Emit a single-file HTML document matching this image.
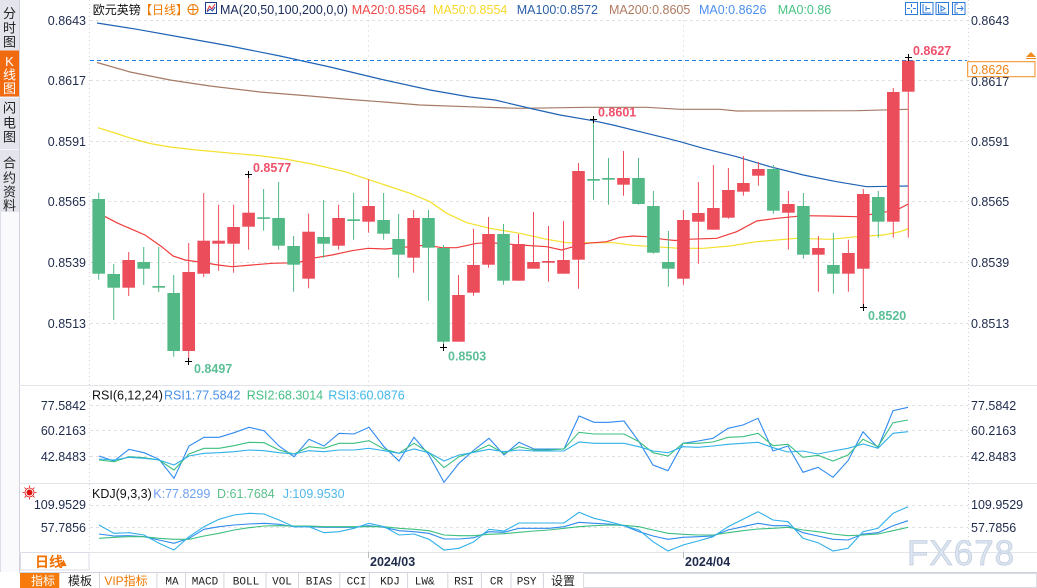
<!DOCTYPE html>
<html><head><meta charset="utf-8"><style>
html,body{margin:0;padding:0;background:#fff;}
body{width:1037px;height:588px;overflow:hidden;position:relative;}
svg{position:absolute;left:0;top:0;}
text{font-family:"Liberation Sans","Noto Sans CJK SC",sans-serif;}
.ax{font-size:12.5px;fill:#1f2b4c;}
.tb{font-family:"Liberation Mono","Noto Sans CJK SC",monospace;font-size:11px;fill:#222;}
.cj{font-family:"Liberation Sans","Noto Sans CJK SC",sans-serif;font-size:12px;}
</style></head><body>
<svg width="1037" height="588" viewBox="0 0 1037 588" xmlns="http://www.w3.org/2000/svg">
<rect x="0" y="0" width="1037" height="588" fill="#fff"/>
<!-- left sidebar -->
<rect x="0" y="0" width="19" height="572" fill="#fafafc"/>
<rect x="0" y="0" width="19" height="212" fill="#e3e4ec"/>
<rect x="0" y="50.5" width="19" height="46" fill="#f26a10"/>
<line x1="0" y1="97.5" x2="19" y2="97.5" stroke="#f6f6fa"/>
<line x1="0" y1="149.5" x2="19" y2="149.5" stroke="#f6f6fa"/>
<line x1="0.5" y1="212" x2="0.5" y2="572" stroke="#dcdde6"/>
<line x1="19.5" y1="0" x2="19.5" y2="572" stroke="#cfd1dc"/>
<g font-size="13" text-anchor="middle" fill="#222">
<text x="9.5" y="18">分</text><text x="9.5" y="32.5">时</text><text x="9.5" y="46.5">图</text>
<text x="9.5" y="66" fill="#fff" font-family="Liberation Serif,serif">K</text><text x="9.5" y="79.5" fill="#fff">线</text><text x="9.5" y="93" fill="#fff">图</text>
<text x="9.5" y="112.5">闪</text><text x="9.5" y="127.5">电</text><text x="9.5" y="141.5">图</text>
<text x="9.5" y="167.5">合</text><text x="9.5" y="182.5">约</text><text x="9.5" y="196.5">资</text><text x="9.5" y="210">料</text>
</g>

<!-- panel separators -->
<g stroke="#e2e4ea" stroke-width="1">
<line x1="19" y1="385.5" x2="1037" y2="385.5"/>
<line x1="19" y1="483.5" x2="1037" y2="483.5"/>
<line x1="19" y1="552.5" x2="1037" y2="552.5"/>
</g>
<!-- axis vertical lines -->
<line x1="89.5" y1="0" x2="89.5" y2="552" stroke="#cdd1dc" stroke-dasharray="1,3"/>
<line x1="968.5" y1="0" x2="968.5" y2="552" stroke="#cdd1dc" stroke-dasharray="1,3"/>
<line x1="368.5" y1="0" x2="368.5" y2="552" stroke="#e6e6e6" stroke-dasharray="2,3"/>
<line x1="683.5" y1="0" x2="683.5" y2="552" stroke="#e6e6e6" stroke-dasharray="2,3"/>
<line x1="368.5" y1="552" x2="368.5" y2="558" stroke="#bbb"/>
<line x1="683.5" y1="552" x2="683.5" y2="558" stroke="#bbb"/>
<!-- grid -->
<g stroke="#e0e0e0" stroke-dasharray="3,3">
<line x1="90" y1="20.5" x2="968" y2="20.5"/>
<line x1="90" y1="80.5" x2="968" y2="80.5"/>
<line x1="90" y1="141.5" x2="968" y2="141.5"/>
<line x1="90" y1="201.5" x2="968" y2="201.5"/>
<line x1="90" y1="262.5" x2="968" y2="262.5"/>
<line x1="90" y1="323.5" x2="968" y2="323.5"/>
<line x1="90" y1="405.5" x2="968" y2="405.5"/>
<line x1="90" y1="430.5" x2="968" y2="430.5"/>
<line x1="90" y1="456.5" x2="968" y2="456.5"/>
<line x1="90" y1="505.5" x2="968" y2="505.5"/>
<line x1="90" y1="527.5" x2="968" y2="527.5"/>
</g>

<!-- header -->
<text class="cj" x="92.7" y="14" fill="#111">欧元英镑</text>
<text class="cj" x="140" y="14" fill="#f07800">【日线】</text>
<circle cx="193" cy="9.5" r="5" fill="none" stroke="#f07800"/>
<line x1="188" y1="9.5" x2="198" y2="9.5" stroke="#f07800"/><line x1="193" y1="4.5" x2="193" y2="14.5" stroke="#f07800"/>
<rect x="205.5" y="2.5" width="11" height="11" fill="#fff" stroke="#1a3a8a"/>
<polyline points="207,11 209.5,6 212,9 215,4" fill="none" stroke="#e03030"/>
<polyline points="207,12 210,9 212.5,11 215,7" fill="none" stroke="#2050c0"/>
<g font-size="12.5">
<text x="220" y="14" fill="#1a2a5a">MA(20,50,100,200,0,0)</text>
<text x="351.7" y="14" fill="#f04848">MA20:0.8564</text>
<text x="433" y="14" fill="#f5d829">MA50:0.8554</text>
<text x="516.7" y="14" fill="#2a5ea8">MA100:0.8572</text>
<text x="609" y="14" fill="#b07a60">MA200:0.8605</text>
<text x="699" y="14" fill="#4d8ff0">MA0:0.8626</text>
<text x="777.7" y="14" fill="#48c383">MA0:0.86</text>
</g>
<!-- top-right icons -->
<g fill="#fff" stroke="#2f7bd8">
<rect x="905.5" y="2.5" width="12" height="12"/>
<rect x="920.5" y="2.5" width="12.5" height="12"/>
<rect x="936" y="2.5" width="12.5" height="12"/>
<rect x="952.5" y="2.5" width="12.5" height="12"/>
</g>
<g stroke="#2f7bd8" fill="none">
<path d="M911.5 4v3M911.5 10v3M907 8.5h3M913 8.5h3"/>
<path d="M923 4v9h8M926 6v5M926 8.5h4"/>
<path d="M938.5 4v9h8M941 6l4 2.5-4 2.5z"/>
<path d="M955 4v9h3M955 4h3M957 8.5h6M961 6l2 2.5-2 2.5"/>
</g>

<!-- left axis labels -->
<g class="ax" text-anchor="end">
<text x="86" y="25">0.8643</text>
<text x="86" y="85">0.8617</text>
<text x="86" y="146">0.8591</text>
<text x="86" y="206">0.8565</text>
<text x="86" y="267">0.8539</text>
<text x="86" y="328">0.8513</text>
<text x="86" y="410">77.5842</text>
<text x="86" y="435">60.2163</text>
<text x="86" y="461">42.8483</text>
<text x="86" y="509">109.9529</text>
<text x="86" y="532">57.7856</text>
</g>
<!-- right axis labels -->
<g class="ax">
<text x="971" y="25">0.8643</text>
<text x="971" y="86">0.8617</text>
<text x="971" y="146">0.8591</text>
<text x="971" y="206">0.8565</text>
<text x="971" y="267">0.8539</text>
<text x="971" y="328">0.8513</text>
<text x="971" y="410">77.5842</text>
<text x="971" y="435">60.2163</text>
<text x="971" y="461">42.8483</text>
<text x="971" y="509">109.9529</text>
<text x="971" y="532">57.7856</text>
</g>
<!-- current price box -->
<rect x="967.7" y="61.7" width="67.3" height="15" fill="#fff" stroke="#f08c1e"/>
<text x="971" y="74" font-size="12.5" fill="#f08010">0.8626</text>
<path d="M1026 57l5-5 5 5z" fill="#f08c1e"/>
<line x1="1026" y1="58.5" x2="1036" y2="58.5" stroke="#f08c1e"/>

<!-- MA lines -->
<g fill="none" stroke-width="1.2">
<polyline stroke="#a57a66" points="97,62.5 130,72 170,80 210,86 260,92 310,96 350,99.5 380,101.7 420,105 467,106.7 520,108.3 587,107.3 647,107.3 680,109.3 720,109.3 737,111 857,110.7 908.3,109.3"/>
<polyline stroke="#1f62b4" points="97,23 137,29.3 180,37 230,46 280,56 330,67 380,79 430,90 470,97 495,100 533,109 560,115 593,120.7 613,125 640,131.7 667,138.3 680,141.7 703.3,148.3 736.7,156.7 770,166.7 803.3,175 836.7,181.7 866.7,186.7 908.3,186"/>
<polyline stroke="#f5e02a" points="98,127.7 115,133 130,138 150,143.5 170,147 196.7,150 238,153.8 258,155.5 285,159 312,164 345,171.7 385,185 410,193.3 430,201.7 446.7,213.3 466.7,222.7 490,228.3 520,233.3 546.7,239.3 566.7,242.7 613.3,242.7 633.3,245.3 653.3,246.7 680,248.3 703.3,248.3 730,246 756.7,241.7 796.7,238.3 830,239.3 856.7,236.7 883.3,235 900,231.7 908.3,228.7"/>
<polyline stroke="#f03c3c" points="98.7,213.3 118,223.3 145,235 161.7,246.7 173,256 185,260 203,262.5 218,265 232,266.7 252,265 272,263.3 298,262.7 312,258.3 332,255 352,250.7 368,248.3 385,249 400,247.7 426.7,245 441.7,247.7 456.7,247.7 476.7,243.3 490,242.7 520,245 546.7,246.7 561.7,250 573.3,246.7 586.7,243.3 606.7,241.7 620,237.3 633.3,236 646.7,236.7 663.3,239.3 675,240.5 686.7,239.3 716.7,238.3 736.7,231.7 756.7,221 776.7,218.3 803.3,215.7 826.7,216 856.7,216.7 873.3,214 886.7,211.7 900,208.3 908.3,204"/>
</g>
<!-- current price dashed line -->
<line x1="90" y1="60.5" x2="967" y2="60.5" stroke="#1a7ee8" stroke-dasharray="4,3"/>

<!-- candles green -->
<g fill="#51b886">
<rect x="98.2" y="192.7" width="1" height="87"/><rect x="92.4" y="199" width="12.6" height="74.7"/>
<rect x="113.2" y="264" width="1" height="56"/><rect x="107.4" y="274" width="12.6" height="13.7"/>
<rect x="143.2" y="247" width="1" height="38"/><rect x="137.4" y="262" width="12.6" height="6.7"/>
<rect x="158.2" y="247" width="1" height="45"/><rect x="152.4" y="286" width="12.6" height="1.7"/>
<rect x="173.2" y="275" width="1" height="81.7"/><rect x="167.4" y="293" width="12.6" height="58"/>
<rect x="263.1" y="189" width="1" height="41.7"/><rect x="257.3" y="217.3" width="12.6" height="1.6"/>
<rect x="278.1" y="182" width="1" height="67.7"/><rect x="272.3" y="218" width="12.6" height="27.7"/>
<rect x="293.1" y="236" width="1" height="55.7"/><rect x="287.3" y="246" width="12.6" height="18.7"/>
<rect x="323.1" y="200" width="1" height="57.7"/><rect x="317.3" y="237" width="12.6" height="6.7"/>
<rect x="353.1" y="192.7" width="1" height="47"/><rect x="347.3" y="219.3" width="12.6" height="1.7"/>
<rect x="383.1" y="193" width="1" height="46.7"/><rect x="377.3" y="220" width="12.6" height="13.7"/>
<rect x="398.1" y="214" width="1" height="63.7"/><rect x="392.3" y="239" width="12.6" height="15.7"/>
<rect x="428" y="210" width="1" height="90.7"/><rect x="422.2" y="218" width="12.6" height="29.7"/>
<rect x="443" y="245" width="1" height="102"/><rect x="437.2" y="248" width="12.6" height="93.7"/>
<rect x="503" y="224" width="1" height="60.7"/><rect x="497.2" y="234" width="12.6" height="46.7"/>
<rect x="593" y="119" width="1" height="80.7"/><rect x="587.2" y="179" width="12.6" height="1.7"/>
<rect x="608" y="158" width="1" height="46.7"/><rect x="602.2" y="178" width="12.6" height="1.7"/>
<rect x="638" y="158" width="1" height="46.7"/><rect x="632.2" y="178" width="12.6" height="26"/>
<rect x="652.9" y="191" width="1" height="62.7"/><rect x="647.1" y="206" width="12.6" height="46.7"/>
<rect x="667.9" y="231" width="1" height="55.7"/><rect x="662.1" y="262" width="12.6" height="6.7"/>
<rect x="772.9" y="165" width="1" height="48.7"/><rect x="767.1" y="169" width="12.6" height="41.7"/>
<rect x="802.9" y="193" width="1" height="65.7"/><rect x="797.1" y="206" width="12.6" height="48.7"/>
<rect x="832.9" y="233" width="1" height="60.7"/><rect x="827.1" y="265" width="12.6" height="8.7"/>
<rect x="877.8" y="191" width="1" height="46.7"/><rect x="872" y="197" width="12.6" height="24.7"/>
</g>
<!-- candles red -->
<g fill="#ec4d5b">
<rect x="128.2" y="252" width="1" height="44"/><rect x="122.4" y="260" width="12.6" height="27.7"/>
<rect x="188.2" y="243" width="1" height="118"/><rect x="182.4" y="272" width="12.6" height="79"/>
<rect x="203.2" y="193" width="1" height="84"/><rect x="197.4" y="240.7" width="12.6" height="33"/>
<rect x="218.1" y="204.7" width="1" height="66"/><rect x="212.3" y="240.7" width="12.6" height="3"/>
<rect x="233.1" y="204.7" width="1" height="68"/><rect x="227.3" y="227" width="12.6" height="16.7"/>
<rect x="248.1" y="174.5" width="1" height="75.2"/><rect x="242.3" y="212.7" width="12.6" height="14"/>
<rect x="308.1" y="213.7" width="1" height="74.6"/><rect x="302.3" y="231.7" width="12.6" height="47"/>
<rect x="338.1" y="204.7" width="1" height="45"/><rect x="332.3" y="218" width="12.6" height="27.7"/>
<rect x="368.1" y="179.3" width="1" height="53.4"/><rect x="362.3" y="206" width="12.6" height="15.7"/>
<rect x="413.1" y="210" width="1" height="62.7"/><rect x="407.3" y="218" width="12.6" height="39.7"/>
<rect x="458" y="275" width="1" height="66.7"/><rect x="452.2" y="295" width="12.6" height="46.7"/>
<rect x="473" y="229" width="1" height="66.7"/><rect x="467.2" y="265" width="12.6" height="27.7"/>
<rect x="488" y="217" width="1" height="50.7"/><rect x="482.2" y="234" width="12.6" height="30.7"/>
<rect x="518" y="234" width="1" height="46.7"/><rect x="512.2" y="244" width="12.6" height="36.7"/>
<rect x="533" y="212" width="1" height="56.7"/><rect x="527.2" y="262" width="12.6" height="6.7"/>
<rect x="548" y="226" width="1" height="55.7"/><rect x="542.2" y="261" width="12.6" height="1.7"/>
<rect x="563" y="221" width="1" height="52.7"/><rect x="557.2" y="260" width="12.6" height="13.7"/>
<rect x="578" y="163" width="1" height="125.7"/><rect x="572.2" y="171" width="12.6" height="88.7"/>
<rect x="623" y="151" width="1" height="44.7"/><rect x="617.2" y="178" width="12.6" height="6.7"/>
<rect x="682.9" y="210" width="1" height="74.7"/><rect x="677.1" y="220" width="12.6" height="58.7"/>
<rect x="697.9" y="182" width="1" height="81.7"/><rect x="692.1" y="213" width="12.6" height="8.7"/>
<rect x="712.9" y="165" width="1" height="64.7"/><rect x="707.1" y="208" width="12.6" height="21.7"/>
<rect x="727.9" y="168" width="1" height="50.7"/><rect x="722.1" y="190" width="12.6" height="27.7"/>
<rect x="742.9" y="156" width="1" height="39.7"/><rect x="737.1" y="183" width="12.6" height="8.7"/>
<rect x="757.9" y="162" width="1" height="23.7"/><rect x="752.1" y="169" width="12.6" height="6.7"/>
<rect x="787.9" y="191" width="1" height="58.7"/><rect x="782.1" y="204" width="12.6" height="8.7"/>
<rect x="817.9" y="236" width="1" height="55.7"/><rect x="812.1" y="248" width="12.6" height="6.7"/>
<rect x="847.9" y="239.7" width="1" height="52"/><rect x="842.1" y="253" width="12.6" height="20.7"/>
<rect x="862.8" y="189" width="1" height="118.5"/><rect x="857" y="194" width="12.6" height="74.7"/>
<rect x="892.8" y="88" width="1" height="149.7"/><rect x="887" y="92" width="12.6" height="129.7"/>
<rect x="907.8" y="57.7" width="1" height="180"/><rect x="902" y="60.7" width="12.6" height="31"/>
</g>
<!-- extreme markers -->
<g stroke="#000" stroke-width="1">
<path d="M245 174.5h7M248.5 171v7"/>
<path d="M185 361.5h7M188.5 358v7"/>
<path d="M440 347.5h7M443.5 344v7"/>
<path d="M590 119.5h7M593.5 116v7"/>
<path d="M860 307.5h7M863.5 304v7"/>
<path d="M905 57.5h7M908.5 54v7"/>
</g>
<g font-size="12.5" font-weight="bold">
<text x="253" y="172" fill="#f0506a">0.8577</text>
<text x="598" y="116.5" fill="#f0506a">0.8601</text>
<text x="913" y="55" fill="#f0506a">0.8627</text>
<text x="194" y="373" fill="#5bbf97">0.8497</text>
<text x="448" y="360.5" fill="#5bbf97">0.8503</text>
<text x="868" y="320" fill="#5bbf97">0.8520</text>
</g>

<!-- RSI -->
<text x="92" y="399.5" font-size="12.5" fill="#111">RSI(6,12,24)</text>
<text x="164" y="399.5" font-size="12.5" fill="#4a90e8">RSI1:77.5842</text>
<text x="246.7" y="399.5" font-size="12.5" fill="#45c085">RSI2:68.3014</text>
<text x="328.3" y="399.5" font-size="12.5" fill="#40b8e8">RSI3:60.0876</text>
<g fill="none" stroke-width="1.1">
<polyline stroke="#2f8af0" points="99,456 114,461 129,449.3 144,452.7 159,459.3 174,478.3 189,446 204,437.3 219,437.3 234,432.7 249,427.3 264,430.7 279,446 294,456.7 309,439.3 324,446 339,433.3 354,434 369,427.3 384,446.7 399,461 414,437.3 429,455 444,482.3 459,463.3 474,450 489,438.3 504,455 519,442.3 534,449 549,449 564,449 579,416 594,422.3 609,422.3 624,421 639,441.7 653,465 668,470.7 683,443.3 698,441 713,438.3 728,428.3 743,425 758,418.3 773,451 788,446 803,472.3 818,467.3 833,477.3 848,460.7 863,431.7 878,447.7 893,410.7 908,407.3"/>
<polyline stroke="#3cbf7f" points="99,460 114,461.7 129,456.7 144,457.7 159,460 174,470 189,454 204,448.3 219,448.3 234,445.7 249,442.3 264,442.7 279,450 294,454 309,446.7 324,448.3 339,443.3 354,443.3 369,440.7 384,449 399,453.3 414,443.3 429,452.7 444,467.7 459,456.7 474,451.7 489,445 504,453.3 519,446.7 534,450 549,450 564,449 579,432.3 594,434 609,434 624,434 639,441.7 653,452.7 668,456 683,443.3 698,443.3 713,442 728,437.3 743,436.7 758,433.3 773,445.7 788,444.3 803,457.3 818,455.3 833,461 848,455 863,439.3 878,446.7 893,422.7 908,420"/>
<polyline stroke="#30b0e8" points="99,459 114,460 129,457.3 144,458.3 159,460 174,465 189,456 204,453.3 219,452.7 234,451.7 249,450 264,450.7 279,452.7 294,454 309,450.7 324,451.7 339,450 354,450 369,448.3 384,450.7 399,453.3 414,449 429,452.7 444,461 459,455 474,452.3 489,449.3 504,451.7 519,450 534,451 549,451 564,451 579,442 594,443.3 609,443.3 624,443.3 639,446.7 653,451 668,452.7 683,446.7 698,447.3 713,446 728,444.3 743,443.3 758,442.3 773,447.7 788,452 803,451 818,454 833,451 848,448.3 863,444 878,448.3 893,433.3 908,431.7"/>
</g>

<!-- KDJ -->
<g>
<circle cx="29.5" cy="492.5" r="3" fill="#e01010"/>
<circle cx="29.5" cy="492.5" r="4.5" fill="none" stroke="#e01010" stroke-width="0.8"/>
<path d="M29.5 485.5v2M29.5 497.5v2M22.5 492.5h2M34.5 492.5h2M24.5 487.5l1.5 1.5M33 496l1.5 1.5M34.5 487.5l-1.5 1.5M26 496l-1.5 1.5" stroke="#e01010" stroke-width="0.8"/>
</g>
<text x="92" y="498" font-size="12.5" fill="#111">KDJ(9,3,3)</text>
<text x="153.3" y="498" font-size="12.5" fill="#6fa0f0">K:77.8299</text>
<text x="217" y="498" font-size="12.5" fill="#5cc08a">D:61.7684</text>
<text x="282.7" y="498" font-size="12.5" fill="#50b8ea">J:109.9530</text>
<g fill="none" stroke-width="1.1">
<polyline stroke="#2f8af0" points="99,534 114,536 129,535.7 144,536.7 159,540 174,543.3 189,538.3 204,529.3 219,526.7 234,525 249,524 264,523.3 279,524.3 294,526.7 309,526.7 324,527.3 339,527.3 354,527.3 369,525.7 384,527.3 399,530.7 414,531.7 429,533.3 444,539 459,539 474,537.7 489,531.7 504,532.3 519,528.3 534,528.3 549,528.3 564,526.7 579,522.3 594,523.3 609,524 624,525.7 639,531.7 653,536 668,539.3 683,537.3 698,536.7 713,536 728,530 743,526.7 758,523.3 773,525.7 788,525.7 803,532.7 818,536 833,539.3 848,540 863,534 878,532.7 893,525.7 908,520.7"/>
<polyline stroke="#3cbf7f" points="99,538.3 114,537.3 129,536.7 144,536.7 159,538.3 174,539.3 189,539.3 204,536 219,533.3 234,530 249,527.7 264,526 279,525.7 294,526 309,526 324,526.7 339,526.7 354,526.7 369,526.7 384,526.7 399,528.3 414,529.3 429,530.7 444,535 459,535.7 474,535.7 489,534.3 504,533.7 519,532.3 534,531 549,530 564,528.3 579,526.7 594,525.7 609,525 624,525.3 639,526.7 653,530 668,533.3 683,534.3 698,535 713,535 728,532.7 743,530.7 758,529 773,528.3 788,527.3 803,530 818,531.7 833,534 848,535.7 863,535 878,534 893,530.7 908,527.3"/>
<polyline stroke="#30b0e8" points="99,525 114,533.3 129,532.7 144,535 159,543.3 174,550 189,536.7 204,526.7 219,519.3 234,515 249,513.3 264,514 279,520 294,526.7 309,526.7 324,532.7 339,531.7 354,528.3 369,523.3 384,526.7 399,535 414,534 429,539.3 444,550 459,548.3 474,541.7 489,529.3 504,531 519,523 534,523 549,523 564,523 579,512.3 594,518.3 609,521.7 624,525.7 639,530 653,541.7 668,551 683,545 698,541 713,536.7 728,526.7 743,519.3 758,511.7 773,520 788,521.7 803,538.3 818,542.7 833,551 848,548.3 863,531.7 878,528.3 893,513.3 908,506.7"/>
</g>

<!-- date axis -->
<text x="370" y="566" font-size="12.5" font-weight="bold" fill="#1f2b4c">2024/03</text>
<text x="685" y="566" font-size="12.5" font-weight="bold" fill="#1f2b4c">2024/04</text>
<rect x="20.5" y="552.5" width="68.5" height="17.5" fill="#fff" stroke="#dcdde6"/>
<text x="35" y="567" font-size="14" font-weight="bold" fill="#f07000">日线</text>
<text x="58" y="566" font-size="11" fill="#f07000">▲</text>

<!-- watermark -->
<text x="907" y="565" font-size="35" fill="#dbe4f0" stroke="#c3cfdf" stroke-width="0.8" letter-spacing="1">FX678</text>

<!-- toolbar -->
<line x1="19" y1="572.5" x2="1037" y2="572.5" stroke="#cfd1dc"/>
<rect x="20" y="573" width="39.3" height="15" fill="#f77b0c"/>
<rect x="583.6" y="573.5" width="453" height="14" fill="#fff" stroke="#d8dae2"/>
<g stroke="#d4d6de">
<line x1="99.5" y1="573" x2="99.5" y2="588"/>
<line x1="156.9" y1="573" x2="156.9" y2="588"/>
<line x1="185.6" y1="573" x2="185.6" y2="588"/>
<line x1="223.9" y1="573" x2="223.9" y2="588"/>
<line x1="266" y1="573" x2="266" y2="588"/>
<line x1="298.5" y1="573" x2="298.5" y2="588"/>
<line x1="339.8" y1="573" x2="339.8" y2="588"/>
<line x1="369.3" y1="573" x2="369.3" y2="588"/>
<line x1="407.6" y1="573" x2="407.6" y2="588"/>
<line x1="447.8" y1="573" x2="447.8" y2="588"/>
<line x1="481.4" y1="573" x2="481.4" y2="588"/>
<line x1="511" y1="573" x2="511" y2="588"/>
<line x1="543.4" y1="573" x2="543.4" y2="588"/>
</g>
<g text-anchor="middle">
<text class="cj" x="43" y="585" fill="#fff" font-size="13">指标</text>
<text class="cj" x="80" y="585" fill="#222" font-size="13">模板</text>
<text class="cj" x="126" y="585" fill="#f07800" font-size="12">VIP指标</text>
<text class="tb" x="172" y="584.5">MA</text>
<text class="tb" x="205" y="584.5">MACD</text>
<text class="tb" x="246" y="584.5">BOLL</text>
<text class="tb" x="282" y="584.5">VOL</text>
<text class="tb" x="319" y="584.5">BIAS</text>
<text class="tb" x="356.5" y="584.5">CCI</text>
<text class="tb" x="390" y="584.5">KDJ</text>
<text class="tb" x="424.7" y="584.5">LW&amp;</text>
<text class="tb" x="464" y="584.5">RSI</text>
<text class="tb" x="496.5" y="584.5">CR</text>
<text class="tb" x="526.6" y="584.5">PSY</text>
<text class="cj" x="563" y="585" fill="#222" font-size="13">设置</text>
</g>
</svg>
</body></html>
